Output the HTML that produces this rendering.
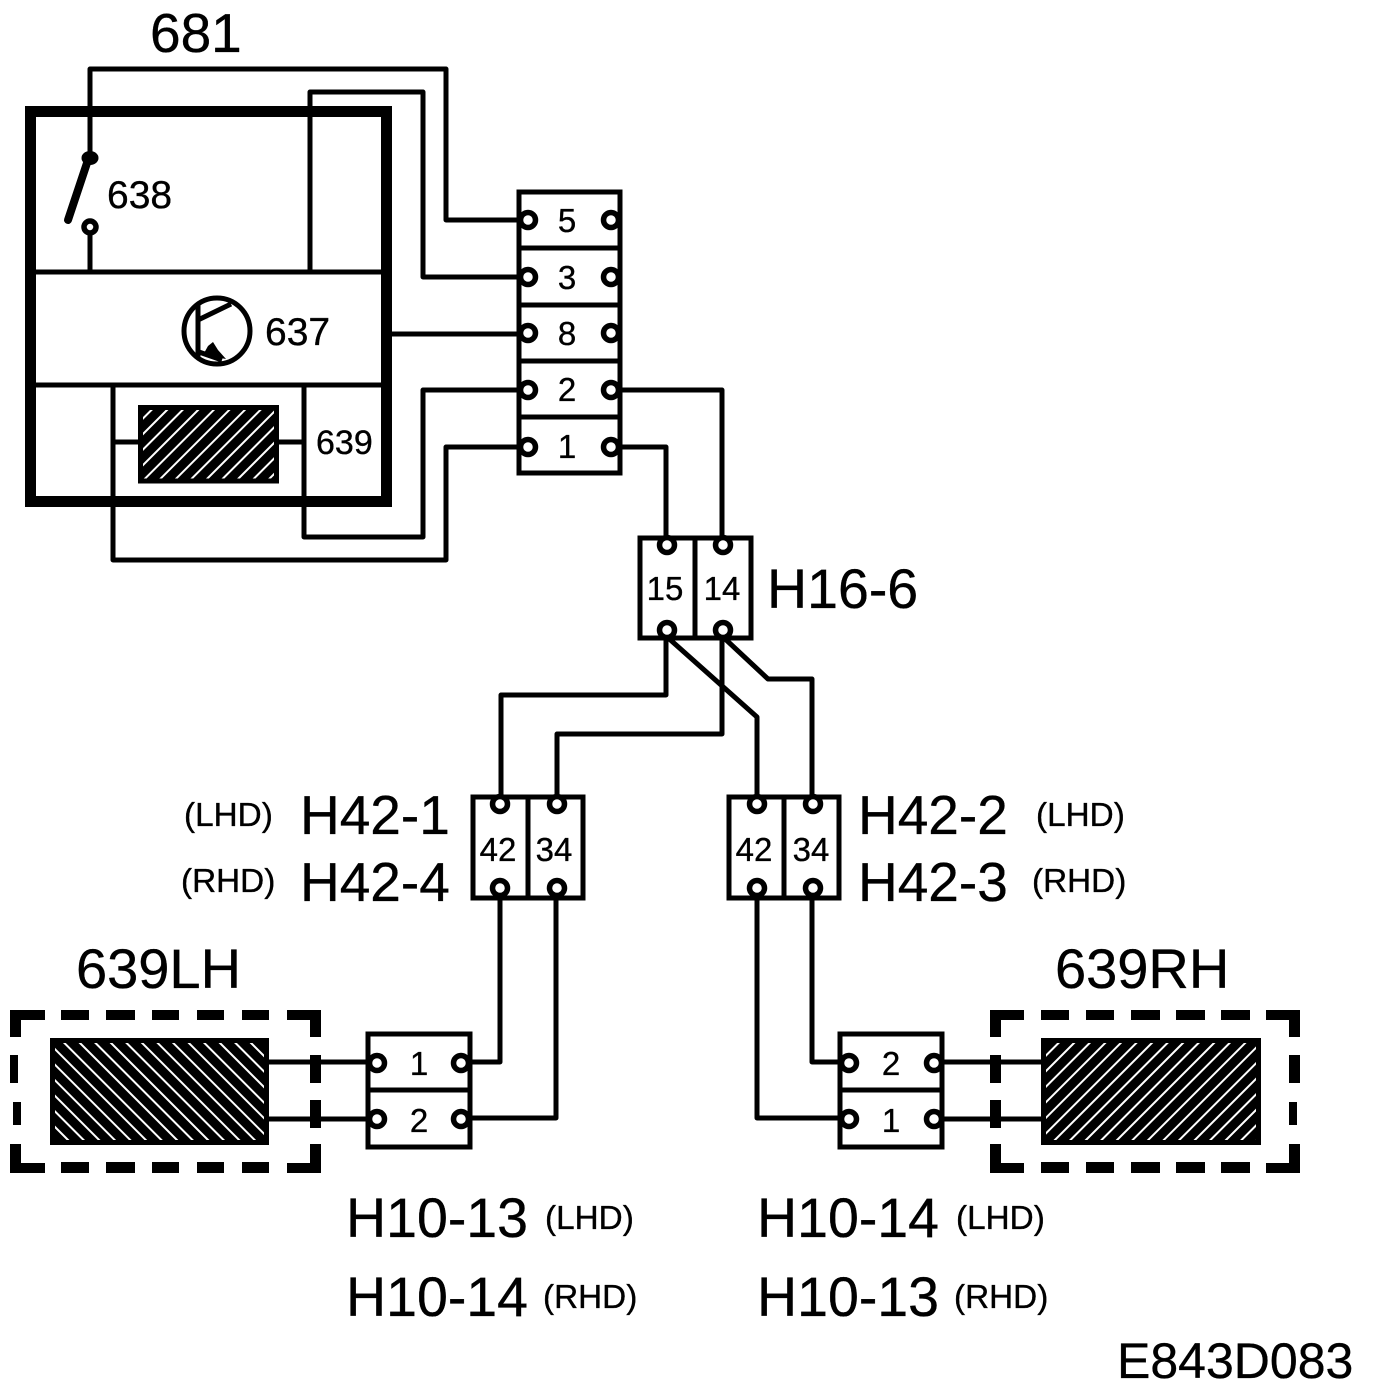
<!DOCTYPE html>
<html><head><meta charset="utf-8"><style>
html,body{margin:0;padding:0;background:#fff}
svg{display:block}
text{font-family:"Liberation Sans",sans-serif;fill:#000;stroke:#000;stroke-width:.35}
.w{fill:none;stroke:#000;stroke-width:5;stroke-linejoin:round}
.p{fill:#fff;stroke:#000;stroke-width:5.500}
.c{font-size:33px;text-anchor:middle}
.b{font-size:55px}
.m{font-size:55.5px}
.l{font-size:56px}
.s{font-size:33.3px}
</style></head><body>
<svg width="1376" height="1396" viewBox="0 0 1376 1396" xmlns="http://www.w3.org/2000/svg">
<defs>
<pattern id="hr" width="11" height="11" patternUnits="userSpaceOnUse" patternTransform="rotate(45)"><rect width="11" height="11" fill="#000"/><rect x="0" width="2" height="11" fill="#fff"/></pattern>
<pattern id="hl" width="11" height="11" patternUnits="userSpaceOnUse" patternTransform="rotate(-45)"><rect width="11" height="11" fill="#000"/><rect x="0" width="2" height="11" fill="#fff"/></pattern>
</defs>

<!-- wires top -->
<path class="w" d="M90 158V69H446V220H520"/>
<path class="w" d="M310 272V92H423V277H520"/>
<path class="w" d="M390 334H520"/>
<path class="w" d="M304 385V537H423V390H520"/>
<path class="w" d="M113 385V560H446V447H520"/>
<path class="w" d="M30 272H386M30 385H386" />
<path class="w" d="M113 442H138M279 442H304"/>
<path class="w" d="M90 233V272"/>

<!-- unit 681 -->
<rect x="30.5" y="111.5" width="356" height="390" fill="none" stroke="#000" stroke-width="11"/>
<path d="M88 160L68 220" stroke="#000" stroke-width="8" stroke-linecap="round"/>
<ellipse cx="90" cy="158" rx="8.5" ry="7" fill="#000"/>
<circle cx="90" cy="227" r="6" class="p"/>
<circle cx="217" cy="331" r="33" fill="none" stroke="#000" stroke-width="5"/>
<path class="w" d="M198 304V358M198 320L231 304M199 352L222 360"/>
<path d="M203 355L208 346L213 342L218 350L226 359L215 357Z" fill="#000"/>
<rect x="140.5" y="407.5" width="136" height="73.500" fill="url(#hr)" stroke="#000" stroke-width="5"/>

<text class="b" x="150" y="52">681</text>
<text x="107" y="208" font-size="39">638</text>
<text x="265" y="345" font-size="39">637</text>
<text x="316" y="454" font-size="34">639</text>

<!-- connector strip -->
<rect x="519" y="192" width="101" height="281" fill="#fff" stroke="#000" stroke-width="5"/>
<path class="w" d="M519 248H620M519 305H620M519 361H620M519 417H620"/>
<g>
<circle class="p" cx="528" cy="220" r="7.5"/><circle class="p" cx="611" cy="220" r="7.5"/>
<circle class="p" cx="528" cy="277" r="7.5"/><circle class="p" cx="611" cy="277" r="7.5"/>
<circle class="p" cx="528" cy="333" r="7.5"/><circle class="p" cx="611" cy="333" r="7.5"/>
<circle class="p" cx="528" cy="390" r="7.5"/><circle class="p" cx="611" cy="390" r="7.5"/>
<circle class="p" cx="528" cy="447" r="7.5"/><circle class="p" cx="611" cy="447" r="7.5"/>
</g>
<text class="c" x="567" y="232">5</text>
<text class="c" x="567" y="289">3</text>
<text class="c" x="567" y="345">8</text>
<text class="c" x="567" y="401">2</text>
<text class="c" x="567" y="458">1</text>

<!-- wires mid -->
<path class="w" d="M618 447H666V537"/>
<path class="w" d="M618 390H722V537"/>
<path class="w" d="M666 636V695H501V797"/>
<path class="w" d="M722 636V734H557V797"/>
<path class="w" d="M666 636L757 717V797"/>
<path class="w" d="M722 636L768 679H812V797"/>

<!-- H16-6 -->
<rect x="640" y="538" width="111" height="100" fill="#fff" stroke="#000" stroke-width="5"/>
<path class="w" d="M695 538V638"/>
<circle class="p" cx="667" cy="545" r="7.5"/><circle class="p" cx="723" cy="545" r="7.5"/>
<circle class="p" cx="667" cy="630" r="7.5"/><circle class="p" cx="723" cy="630" r="7.5"/>
<text class="c" x="665" y="600">15</text>
<text class="c" x="722" y="600">14</text>
<text class="m" x="767" y="608">H16-6</text>

<!-- H42 left -->
<path class="w" d="M500 898V1062H468"/>
<path class="w" d="M556 898V1118H468"/>
<rect x="473" y="797" width="110" height="101" fill="#fff" stroke="#000" stroke-width="5"/>
<path class="w" d="M528 797V898"/>
<circle class="p" cx="500" cy="804" r="7.5"/><circle class="p" cx="557" cy="804" r="7.5"/>
<circle class="p" cx="500" cy="888" r="7.5"/><circle class="p" cx="557" cy="888" r="7.5"/>
<text class="c" x="498" y="861">42</text>
<text class="c" x="554" y="861">34</text>
<text class="s" x="184" y="826">(LHD)</text>
<text class="s" x="181" y="892">(RHD)</text>
<text class="b" x="300" y="834">H42-1</text>
<text class="b" x="300" y="901">H42-4</text>

<!-- H42 right -->
<path class="w" d="M757 898V1118H840"/>
<path class="w" d="M812 898V1062H840"/>
<rect x="729" y="797" width="110" height="101" fill="#fff" stroke="#000" stroke-width="5"/>
<path class="w" d="M784 797V898"/>
<circle class="p" cx="757" cy="804" r="7.5"/><circle class="p" cx="813" cy="804" r="7.5"/>
<circle class="p" cx="757" cy="888" r="7.5"/><circle class="p" cx="813" cy="888" r="7.5"/>
<text class="c" x="754" y="861">42</text>
<text class="c" x="811" y="861">34</text>
<text class="b" x="858" y="834">H42-2</text>
<text class="b" x="858" y="901">H42-3</text>
<text class="s" x="1036" y="826">(LHD)</text>
<text class="s" x="1032" y="892">(RHD)</text>

<!-- bottom left -->
<text class="l" x="76" y="988">639LH</text>
<path d="M10 1010H45V1020H21V1037H10ZM61 1010H89V1020H61ZM106 1010H135V1020H106ZM152 1010H179V1020H152ZM197 1010H224V1020H197ZM242 1010H269V1020H242ZM287 1010H321V1037H310V1020H287ZM10 1055H18V1083H10ZM13 1102H21V1125H13ZM310 1055H321V1083H310ZM310 1100H321V1128H310ZM10 1144H21V1163H45V1173H10ZM61 1162H89V1173H61ZM106 1162H135V1173H106ZM152 1162H179V1173H152ZM197 1162H224V1173H197ZM242 1162H269V1173H242ZM310 1144H321V1173H287V1163H310Z" fill="#000"/>
<rect x="52.500" y="1040.500" width="214" height="102" fill="url(#hl)" stroke="#000" stroke-width="5"/>
<path class="w" d="M269 1062H368M269 1119H368"/>
<rect x="368" y="1034" width="102" height="113" fill="#fff" stroke="#000" stroke-width="5"/>
<path class="w" d="M368 1090H470"/>
<circle class="p" cx="377" cy="1063" r="7.5"/><circle class="p" cx="461" cy="1063" r="7.5"/>
<circle class="p" cx="377" cy="1119" r="7.5"/><circle class="p" cx="461" cy="1119" r="7.5"/>
<text class="c" x="419" y="1075">1</text>
<text class="c" x="419" y="1132">2</text>

<!-- bottom right -->
<text class="l" x="1055" y="988">639RH</text>
<path d="M990 1010H1024V1020H1001V1037H990ZM1041 1010H1069V1020H1041ZM1086 1010H1114V1020H1086ZM1131 1010H1160V1020H1131ZM1176 1010H1205V1020H1176ZM1221 1010H1250V1020H1221ZM1266 1010H1300V1037H1289V1020H1266ZM990 1055H1001V1083H990ZM990 1100H1001V1128H990ZM1289 1055H1300V1083H1289ZM1289 1102H1297V1125H1289ZM990 1144H1001V1163H1024V1173H990ZM1041 1162H1069V1173H1041ZM1086 1162H1114V1173H1086ZM1131 1162H1160V1173H1131ZM1176 1162H1205V1173H1176ZM1221 1162H1250V1173H1221ZM1289 1144H1300V1173H1266V1163H1289Z" fill="#000"/>
<rect x="1043.500" y="1040.500" width="215" height="102" fill="url(#hr)" stroke="#000" stroke-width="5"/>
<path class="w" d="M942 1062H1041M942 1119H1041"/>
<rect x="840" y="1034" width="102" height="113" fill="#fff" stroke="#000" stroke-width="5"/>
<path class="w" d="M840 1090H942"/>
<circle class="p" cx="849" cy="1063" r="7.5"/><circle class="p" cx="934" cy="1063" r="7.5"/>
<circle class="p" cx="849" cy="1119" r="7.5"/><circle class="p" cx="934" cy="1119" r="7.5"/>
<text class="c" x="891" y="1075">2</text>
<text class="c" x="891" y="1132">1</text>

<!-- bottom labels -->
<text class="m" x="346" y="1237">H10-13</text>
<text class="s" x="545" y="1229">(LHD)</text>
<text class="m" x="346" y="1316">H10-14</text>
<text class="s" x="543" y="1308">(RHD)</text>
<text class="m" x="757" y="1237">H10-14</text>
<text class="s" x="956" y="1229">(LHD)</text>
<text class="m" x="757" y="1316">H10-13</text>
<text class="s" x="954" y="1308">(RHD)</text>
<text x="1117" y="1378" font-size="50">E843D083</text>
</svg>
</body></html>
